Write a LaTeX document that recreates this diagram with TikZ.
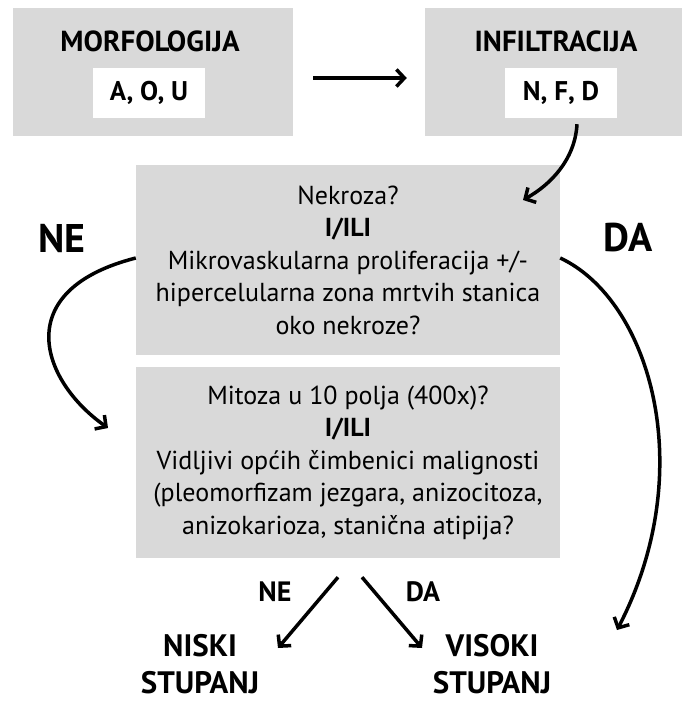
\documentclass[tikz,border=0pt]{standalone}
\usepackage{fontspec}
\setmainfont{PT Sans}
\usetikzlibrary{arrows.meta, positioning}
\definecolor{boxgray}{HTML}{D9D9D9}

\begin{document}
\begin{tikzpicture}[x=1pt,y=1pt,
  graybox/.style={fill=boxgray, draw=none, inner sep=0pt, align=center},
  whitebox/.style={fill=white, draw=none, inner sep=0pt, minimum width=112pt, minimum height=50pt,
    font=\fontsize{27}{30}\selectfont\bfseries},
  title/.style={font=\fontsize{29}{32}\selectfont\bfseries},
  bigword/.style={font=\fontsize{40}{44}\selectfont\bfseries},
  smallword/.style={font=\fontsize{28}{30}\selectfont\bfseries},
  grade/.style={align=center, inner sep=0pt, font=\fontsize{31}{37}\selectfont\bfseries},
  qtext/.style={font=\fontsize{26}{32.5}\selectfont},
  arr/.style={line width=3.5pt, -{Straight Barb[length=8pt,width=17pt]}}]
\useasboundingbox (0,0) rectangle (694,-701);

% top row
\node[graybox, minimum width=280pt, minimum height=128pt] (morf) at (153,-72) {};
\node[title] (morftitle) at (150,-41) {MORFOLOGIJA};
\node[whitebox] (aou) at (149,-93) {A, O, U};
\node[graybox, minimum width=257pt, minimum height=128pt] (infil) at (553.5,-72) {};
\node[title] (infiltitle) at (556,-41) {INFILTRACIJA};
\node[whitebox] (nfd) at (561,-93) {N, F, D};

% question boxes
\node[graybox, qtext, minimum width=424pt, minimum height=190pt] (necro) at (348,-260)
  {Nekroza?\\ \textbf{I/ILI}\\ Mikrovaskularna proliferacija +/-\\ hipercelularna zona mrtvih stanica\\ oko nekroze?};
\node[graybox, qtext, minimum width=424pt, minimum height=191pt] (mitoza) at (348,-462.5)
  {Mitoza u 10 polja (400x)?\\ \textbf{I/ILI}\\ Vidljivi općih čimbenici malignosti\\ (pleomorfizam jezgara, anizocitoza,\\ anizokarioza, stanična atipija?};

% answers
\node[bigword] (ne) at (62,-238) {NE};
\node[bigword] (da) at (628,-238) {DA};
\node[smallword] (ne2) at (275,-592) {NE};
\node[smallword] (da2) at (423,-592) {DA};
\node[grade] (niski) at (200,-664) {NISKI\\ STUPANJ};
\node[grade] (visoki) at (492,-664) {VISOKI\\ STUPANJ};

% connectors
\coordinate (necrotip) at (523,-200);
\coordinate (mitotip) at (108,-428);
\coordinate (visotip) at (617,-630);
\coordinate (niskitip) at (278,-648);
\coordinate (visokitip) at (422,-648);
\draw[arr, shorten <=20pt, shorten >=18pt] ([yshift=-6pt]morf.east) -- ([yshift=-6pt]infil.west);
\draw[arr] ([xshift=16pt,yshift=-6pt]nfd.south) .. controls (575,-160) and (550,-185) .. (necrotip);
\draw[arr] ([yshift=2pt]necro.west) .. controls (10,-290) and (40,-380) .. (mitotip);
\draw[arr] ([yshift=2pt]necro.east) .. controls (650,-300) and (700,-470) .. (visotip);
\draw[arr] ([xshift=-10pt,yshift=-19pt]mitoza.south) -- (niskitip);
\draw[arr] ([xshift=14pt,yshift=-19pt]mitoza.south) -- (visokitip);
\end{tikzpicture}
\end{document}
